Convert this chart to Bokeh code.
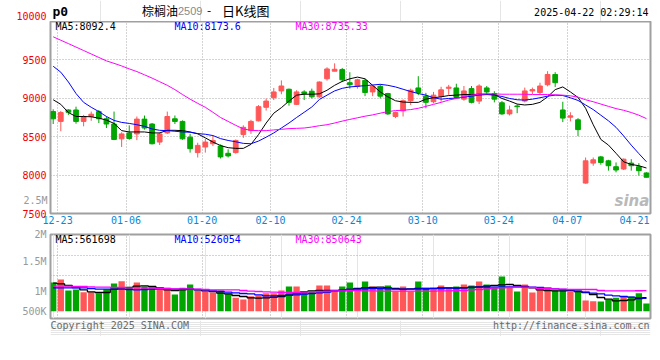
from bokeh.plotting import figure
from bokeh.models import Range1d, FixedTicker, Label, Grid, ColumnDataSource, LinearAxis
from bokeh.layouts import column
from bokeh.embed import file_html
from bokeh.resources import INLINE

# ---------------- data ----------------
opens = [8827, 8699, 8848, 8848, 8699, 8763, 8827, 8733, 8665, 8472,
         8549, 8536, 8729, 8665, 8430, 8549, 8733, 8699, 8494, 8293,
         8366, 8408, 8378, 8284, 8293, 8528, 8579, 8707, 8883, 9007,
         9096, 9118, 8921, 9083, 9092, 9019, 9254, 9353, 9374, 9203,
         9156, 9233, 9083, 9156, 9062, 8763, 8836, 8968, 9135, 9028,
         8955, 9025, 9130, 9135, 8989, 9126, 8964, 9135, 9062, 8942,
         8797, 8900, 8964, 9096, 9075, 9177, 9310, 8848, 8754, 8720,
         7896, 8156, 8237, 8186, 8109, 8079, 8156, 8109, 8028]
highs = [8857, 8836, 8857, 8891, 8784, 8827, 8848, 8763, 8827, 8558,
         8648, 8763, 8776, 8678, 8558, 8827, 8776, 8712, 8536, 8421,
         8472, 8507, 8400, 8336, 8464, 8648, 8720, 8912, 8998, 9135,
         9233, 9126, 9105, 9105, 9126, 9220, 9404, 9455, 9395, 9340,
         9254, 9254, 9169, 9182, 9071, 8827, 8985, 9126, 9288, 9071,
         9083, 9150, 9175, 9190, 9160, 9160, 9182, 9160, 9092, 8964,
         8904, 8921, 9139, 9139, 9203, 9353, 9340, 8955, 8818, 8742,
         8229, 8229, 8250, 8199, 8165, 8216, 8207, 8156, 8036]
lows = [8665, 8571, 8784, 8669, 8635, 8707, 8678, 8613, 8455, 8366,
        8460, 8455, 8592, 8400, 8391, 8536, 8665, 8460, 8293, 8229,
        8293, 8378, 8216, 8229, 8280, 8485, 8537, 8699, 8840, 8977,
        9053, 8904, 8912, 8977, 8998, 9007, 9230, 9353, 9212, 9126,
        9126, 9028, 9028, 8998, 8784, 8742, 8763, 8912, 9041, 8870,
        8934, 8955, 9045, 8998, 8968, 8934, 8925, 9041, 8947, 8784,
        8776, 8806, 8947, 9053, 9053, 9156, 9148, 8690, 8699, 8507,
        7887, 8122, 8135, 8058, 8036, 8066, 8058, 7994, 7972]
closes = [8733, 8814, 8818, 8699, 8763, 8793, 8733, 8665, 8464, 8536,
          8477, 8729, 8613, 8408, 8536, 8763, 8699, 8472, 8344, 8387,
          8430, 8451, 8237, 8250, 8451, 8622, 8699, 8891, 8964, 9083,
          9160, 8947, 9083, 9062, 9019, 9212, 9382, 9378, 9241, 9177,
          9241, 9075, 9156, 9028, 8797, 8814, 8968, 9105, 9075, 8947,
          9041, 9110, 9145, 9011, 9096, 8947, 9160, 9083, 8989, 8797,
          8848, 8891, 9096, 9113, 9160, 9310, 9203, 8742, 8772, 8592,
          8186, 8199, 8165, 8122, 8066, 8207, 8122, 8058, 7972]

ma5 = [8981, 8921, 8814, 8763, 8763, 8759, 8742, 8716, 8673, 8579,
       8562, 8562, 8562, 8549, 8549, 8583, 8583, 8579, 8562, 8537,
       8485, 8430, 8385, 8357, 8348, 8348, 8400, 8528, 8678, 8806,
       8878, 8964, 9041, 9053, 9053, 9058, 9105, 9169, 9220, 9254,
       9276, 9254, 9169, 9083, 9019, 8968, 8951, 8947, 8947, 8989,
       9007, 9019, 9036, 9041, 9049, 9049, 9053, 9053, 9049, 8998,
       8964, 8925, 8913, 8921, 8947, 9019, 9113, 9148, 9083, 9011,
       8870, 8656, 8464, 8391, 8284, 8173, 8139, 8122, 8092.4]
ma10 = [9417, 9340, 9212, 9062, 8947, 8883, 8827, 8763, 8712, 8686,
        8673, 8656, 8635, 8601, 8583, 8579, 8571, 8562, 8558, 8541,
        8532, 8515, 8475, 8451, 8434, 8413, 8408, 8443, 8494, 8549,
        8613, 8678, 8750, 8818, 8887, 8985, 9041, 9096, 9130, 9148,
        9156, 9165, 9173, 9182, 9169, 9148, 9118, 9088, 9062, 9041,
        9007, 8989, 8998, 9002, 9015, 9028, 9041, 9049, 9041, 9024,
        8998, 8981, 8977, 8989, 9007, 9028, 9041, 9036, 9007, 8972,
        8913, 8853, 8780, 8707, 8622, 8510, 8390, 8280, 8173.6]
ma30 = [9801, 9756, 9712, 9667, 9622, 9577, 9532, 9487, 9455, 9421,
        9383, 9348, 9306, 9263, 9216, 9169, 9113, 9049, 8989, 8934,
        8883, 8818, 8750, 8699, 8648, 8601, 8583, 8579, 8579, 8588,
        8596, 8605, 8609, 8613, 8626, 8643, 8656, 8678, 8703, 8725,
        8746, 8767, 8784, 8806, 8827, 8840, 8844, 8853, 8870, 8895,
        8921, 8947, 8977, 8998, 9024, 9041, 9053, 9058, 9058, 9053,
        9053, 9053, 9053, 9049, 9049, 9049, 9045, 9041, 9032, 9015,
        8981, 8955, 8925, 8895, 8866, 8844, 8815, 8780, 8735.33]

# volumes in thousands of lots
volume_k = [1185, 1309, 855, 896, 786, 786, 745, 910, 1144, 1240,
            965, 1185, 1020, 993, 951, 965, 690, 965, 1103, 855,
            814, 772, 855, 717, 552, 483, 621, 648, 745, 745,
            855, 1020, 1020, 814, 814, 1061, 1061, 855, 1020, 1185,
            951, 1227, 1020, 938, 1061, 814, 1020, 814, 1227, 965,
            896, 1061, 965, 1020, 1103, 1061, 1227, 1103, 965, 1433,
            993, 814, 1103, 772, 910, 965, 855, 855, 814, 855,
            442, 414, 401, 469, 552, 593, 607, 745, 318]
vol_ma5_k = [1157, 1130, 1061, 979, 882, 800, 772, 772, 910, 965,
             979, 1034, 1048, 1020, 965, 882, 855, 882, 910, 882,
             841, 814, 745, 717, 648, 607, 552, 538, 552, 580,
             607, 662, 731, 800, 841, 855, 855, 855, 855, 896,
             938, 965, 979, 993, 965, 938, 910, 924, 938, 924,
             938, 965, 965, 951, 965, 993, 1006, 1034, 1061, 1089,
             1103, 1061, 1020, 965, 882, 855, 841, 841, 855, 814,
             772, 690, 566, 497, 428, 442, 469, 524, 561.698]
vol_ma10_k = [965, 965, 965, 965, 965, 938, 910, 910, 910, 910,
              896, 882, 896, 910, 910, 910, 910, 910, 910, 896,
              882, 841, 814, 786, 758, 731, 717, 676, 634, 634,
              648, 662, 676, 703, 731, 758, 786, 841, 869, 896,
              910, 924, 938, 938, 924, 910, 910, 910, 924, 938,
              938, 938, 951, 951, 965, 979, 993, 993, 993, 1006,
              1006, 1006, 993, 993, 979, 951, 924, 896, 882, 827,
              786, 745, 717, 662, 634, 607, 580, 552, 526.054]
vol_ma30_k = [1034, 1034, 1034, 1020, 1020, 1006, 993, 993, 979, 979,
              965, 965, 951, 951, 938, 938, 924, 924, 924, 910,
              896, 882, 882, 882, 882, 855, 827, 814, 800, 786,
              772, 772, 772, 786, 800, 814, 827, 841, 841, 855,
              855, 841, 841, 827, 827, 827, 827, 827, 827, 827,
              827, 841, 841, 855, 855, 882, 896, 924, 951, 965,
              979, 993, 993, 979, 938, 938, 924, 910, 896, 896,
              896, 896, 855, 841, 841, 841, 841, 845, 850.643]

tick_index = [1, 10, 20, 29, 39, 49, 59, 68, 78]
tick_labels = ["12-23", "01-06", "01-20", "02-10", "02-24", "03-10", "03-24", "04-07", "04-21"]
price_ticks = [7500, 8000, 8500, 9000, 9500, 10000]
price_grid = [8000, 8500, 9000, 9500]
vol_tick_labels = ["2.5M", "2M", "1.5M", "1M", "500K"]

symbol = "p0"
title_name = "棕榈油"
title_code = "2509"
title_dash = "-"
title_kind = "日K线图"
stamp = "2025-04-22 02:29:14"
price_ma_text = ["MA5:8092.4", "MA10:8173.6", "MA30:8735.33"]
vol_ma_text = ["MA5:561698", "MA10:526054", "MA30:850643"]
copyright_text = "Copyright 2025 SINA.COM"
url_text = "http://finance.sina.com.cn"
watermark = "sina"

# ---------------- styling / layout (page pixels) ----------------
RED = "#ff5757"
GREEN = "#00a500"
MA_COLORS = ["#000000", "#0000ff", "#ff00ff"]
GRID = "#a8a8a8"
BORDER = "#a0a0a0"
PRICE_LABEL = "#ee0000"
VOL_LABEL = "#999999"
FOOT_COLOR = "#6a6a6a"
MONO = "DejaVu Sans Mono"
CJK = "Noto Sans CJK SC"

W = 660
LEFT, RIGHT = 50, 10
FRAME_L, FRAME_R = LEFT, W - RIGHT
STEP = 7.606          # px per trading day
FIRST_X = 52.7        # page x of first candle
x_start = (FRAME_L - FIRST_X) / STEP
x_end = x_start + (FRAME_R - FRAME_L) / STEP
xr = Range1d(x_start, x_end)

def X(px):
    return x_start + (px - FRAME_L) / STEP

HEAD_H = 21
P_TOP, P_BOT = 21, 213        # price frame page y
def PY(py):
    return 10000 - (py - P_TOP) * 2500 / (P_BOT - P_TOP)

VPX = 41300.0                 # volume frame page y 234..318, zero at 310.7
def VY(py):
    return (310.7 - py) * VPX

grid_pos = [i - 0.42 for i in tick_index[:-1]]
label_pos = [i - 0.42 for i in tick_index]
label_pos[-1] = min(label_pos[-1], x_end - 2.1)

idx = list(range(len(opens)))
colors = [RED if c >= o else GREEN for o, c in zip(opens, closes)]
src = ColumnDataSource(dict(
    x=idx, low=lows, high=highs,
    top=[max(o, c) for o, c in zip(opens, closes)],
    bottom=[min(o, c) for o, c in zip(opens, closes)],
    color=colors,
    vol=[v * 1000 for v in volume_k],
))

def bare_axis(ax):
    ax.axis_line_color = None
    ax.major_tick_line_color = None
    ax.minor_tick_line_color = None
    ax.major_tick_out = 0
    ax.major_tick_in = 0
    ax.major_label_text_font = MONO
    ax.major_label_text_font_size = "10px"

def add_label(fig, text, x, y, color, size, font=MONO, align="left", style="normal"):
    fig.add_layout(Label(x=x, y=y, text=text, text_color=color,
                         text_font_size=f"{size}px", text_font=font,
                         text_align=align, text_baseline="middle",
                         text_font_style=style))

def strip(height, y_top, y_axis=None):
    # text strip; its frame lines up with the panels, data coords = page pixels
    f = figure(width=W, height=height, x_range=Range1d(FRAME_L, FRAME_R),
               y_range=Range1d(y_top + height, y_top),
               output_backend="svg", toolbar_location=None, tools="",
               x_axis_location=None, y_axis_location=y_axis,
               min_border_left=LEFT, min_border_right=RIGHT,
               min_border_top=0, min_border_bottom=0)
    f.outline_line_color = None
    return f

# ---------------- header strip (page y 0..21) ----------------
head = strip(HEAD_H, 0, y_axis="left")
top_tick = 15.2
head.yaxis.ticker = FixedTicker(ticks=[top_tick])
head.yaxis.major_label_overrides = {top_tick: str(price_ticks[-1])}
head.yaxis.major_label_text_color = PRICE_LABEL
head.yaxis.major_label_standoff = 4
bare_axis(head.yaxis[0])
head.ygrid.grid_line_color = None
add_label(head, symbol, 52, 10.8, "#000000", 13, style="bold")
add_label(head, title_name, 141.5, 10, "#000000", 12, font=CJK)
add_label(head, title_code, 177.5, 10.5, "#888888", 11, font="Liberation Sans")
add_label(head, title_dash, 206.5, 10, "#000000", 12, font=CJK)
add_label(head, title_kind, 221.5, 10, "#000000", 13, font=CJK)
add_label(head, stamp, 648, 12.2, "#000000", 10, align="right")

# ---------------- price panel (page y 21..228) ----------------
p1 = figure(width=W, height=228 - HEAD_H, x_range=xr, y_range=Range1d(7500, 10000),
            output_backend="svg", toolbar_location=None, tools="",
            min_border_left=LEFT, min_border_right=RIGHT,
            min_border_top=P_TOP - HEAD_H, min_border_bottom=228 - P_BOT)
p1.outline_line_color = BORDER
p1.outline_line_width = 2
p1.xaxis.ticker = FixedTicker(ticks=label_pos)
p1.xaxis.major_label_overrides = {pos: lab for pos, lab in zip(label_pos, tick_labels)}
p1.xaxis.major_label_text_color = "#0a86d6"
p1.xaxis.major_label_standoff = 2
p1.yaxis.ticker = FixedTicker(ticks=price_ticks[:-1])
p1.yaxis.major_label_text_color = PRICE_LABEL
p1.yaxis.major_label_standoff = 4
bare_axis(p1.xaxis[0])
bare_axis(p1.yaxis[0])
# the volume scale's top label that sits beside the price panel
v_over = PY(199.5)
ax2 = LinearAxis(ticker=FixedTicker(ticks=[v_over]),
                 major_label_overrides={v_over: vol_tick_labels[0]},
                 major_label_text_color=VOL_LABEL, major_label_standoff=-28)
bare_axis(ax2)
p1.add_layout(ax2, "left")

p1.xgrid.ticker = FixedTicker(ticks=grid_pos)
p1.ygrid.ticker = FixedTicker(ticks=price_grid)
for g in (p1.xgrid[0], p1.ygrid[0]):
    g.grid_line_color = GRID
    g.grid_line_dash = "1 2"
    g.grid_line_width = 1

p1.segment(x0="x", y0="low", x1="x", y1="high", line_color="color", line_width=1, source=src)
p1.vbar(x="x", width=0.62, top="top", bottom="bottom", fill_color="color",
        line_color="color", line_width=1, source=src)
for series, col in zip((ma5, ma10, ma30), MA_COLORS):
    p1.line(idx, series, line_color=col, line_width=1)

for txt, px, col in zip(price_ma_text, (55, 174, 295), MA_COLORS):
    add_label(p1, txt, X(px), PY(25.5), col, 10)
add_label(p1, watermark, X(614), PY(200), "#b9b9b9", 15, font="DejaVu Sans", style="bold italic")

# ---------------- volume panel (page y 228..320) ----------------
p2 = figure(width=W, height=92, x_range=xr, y_range=Range1d(VY(318), VY(234)),
            output_backend="svg", toolbar_location=None, tools="",
            x_axis_location=None,
            min_border_left=LEFT, min_border_right=RIGHT,
            min_border_top=6, min_border_bottom=2)
p2.outline_line_color = BORDER
p2.outline_line_width = 2
vol_tick_pos = [VY(234), VY(260.7), VY(290.7), VY(310.7)]
p2.yaxis.ticker = FixedTicker(ticks=vol_tick_pos)
p2.yaxis.major_label_overrides = {pos: lab for pos, lab in zip(vol_tick_pos, vol_tick_labels[1:])}
p2.yaxis.major_label_text_color = VOL_LABEL
p2.yaxis.major_label_standoff = 4
bare_axis(p2.yaxis[0])
p2.ygrid.ticker = FixedTicker(ticks=[VY(255), VY(275.3)])
p2.ygrid.grid_line_color = GRID
p2.ygrid.grid_line_dash = "1 2"
p2.add_layout(Grid(dimension=0, ticker=FixedTicker(ticks=grid_pos),
                   grid_line_color=GRID, grid_line_dash="1 2", grid_line_width=1))

p2.vbar(x="x", width=0.83, top="vol", bottom=0, fill_color="color", line_color=None, source=src)
for series, col in zip((vol_ma5_k, vol_ma10_k, vol_ma30_k), MA_COLORS):
    p2.step(idx, [v * 1000 for v in series], mode="center", line_color=col, line_width=1.3)

for txt, px, col in zip(vol_ma_text, (55, 174, 295), MA_COLORS):
    add_label(p2, txt, X(px), VY(239), col, 10)

# ---------------- footer strip (page y 320..336) ----------------
foot = strip(16, 320)
add_label(foot, copyright_text, 50, 325, FOOT_COLOR, 10)
add_label(foot, url_text, 649, 325, FOOT_COLOR, 10, align="right")

layout = column(head, p1, p2, foot)
open("out.html", "w").write(file_html(layout, INLINE))
